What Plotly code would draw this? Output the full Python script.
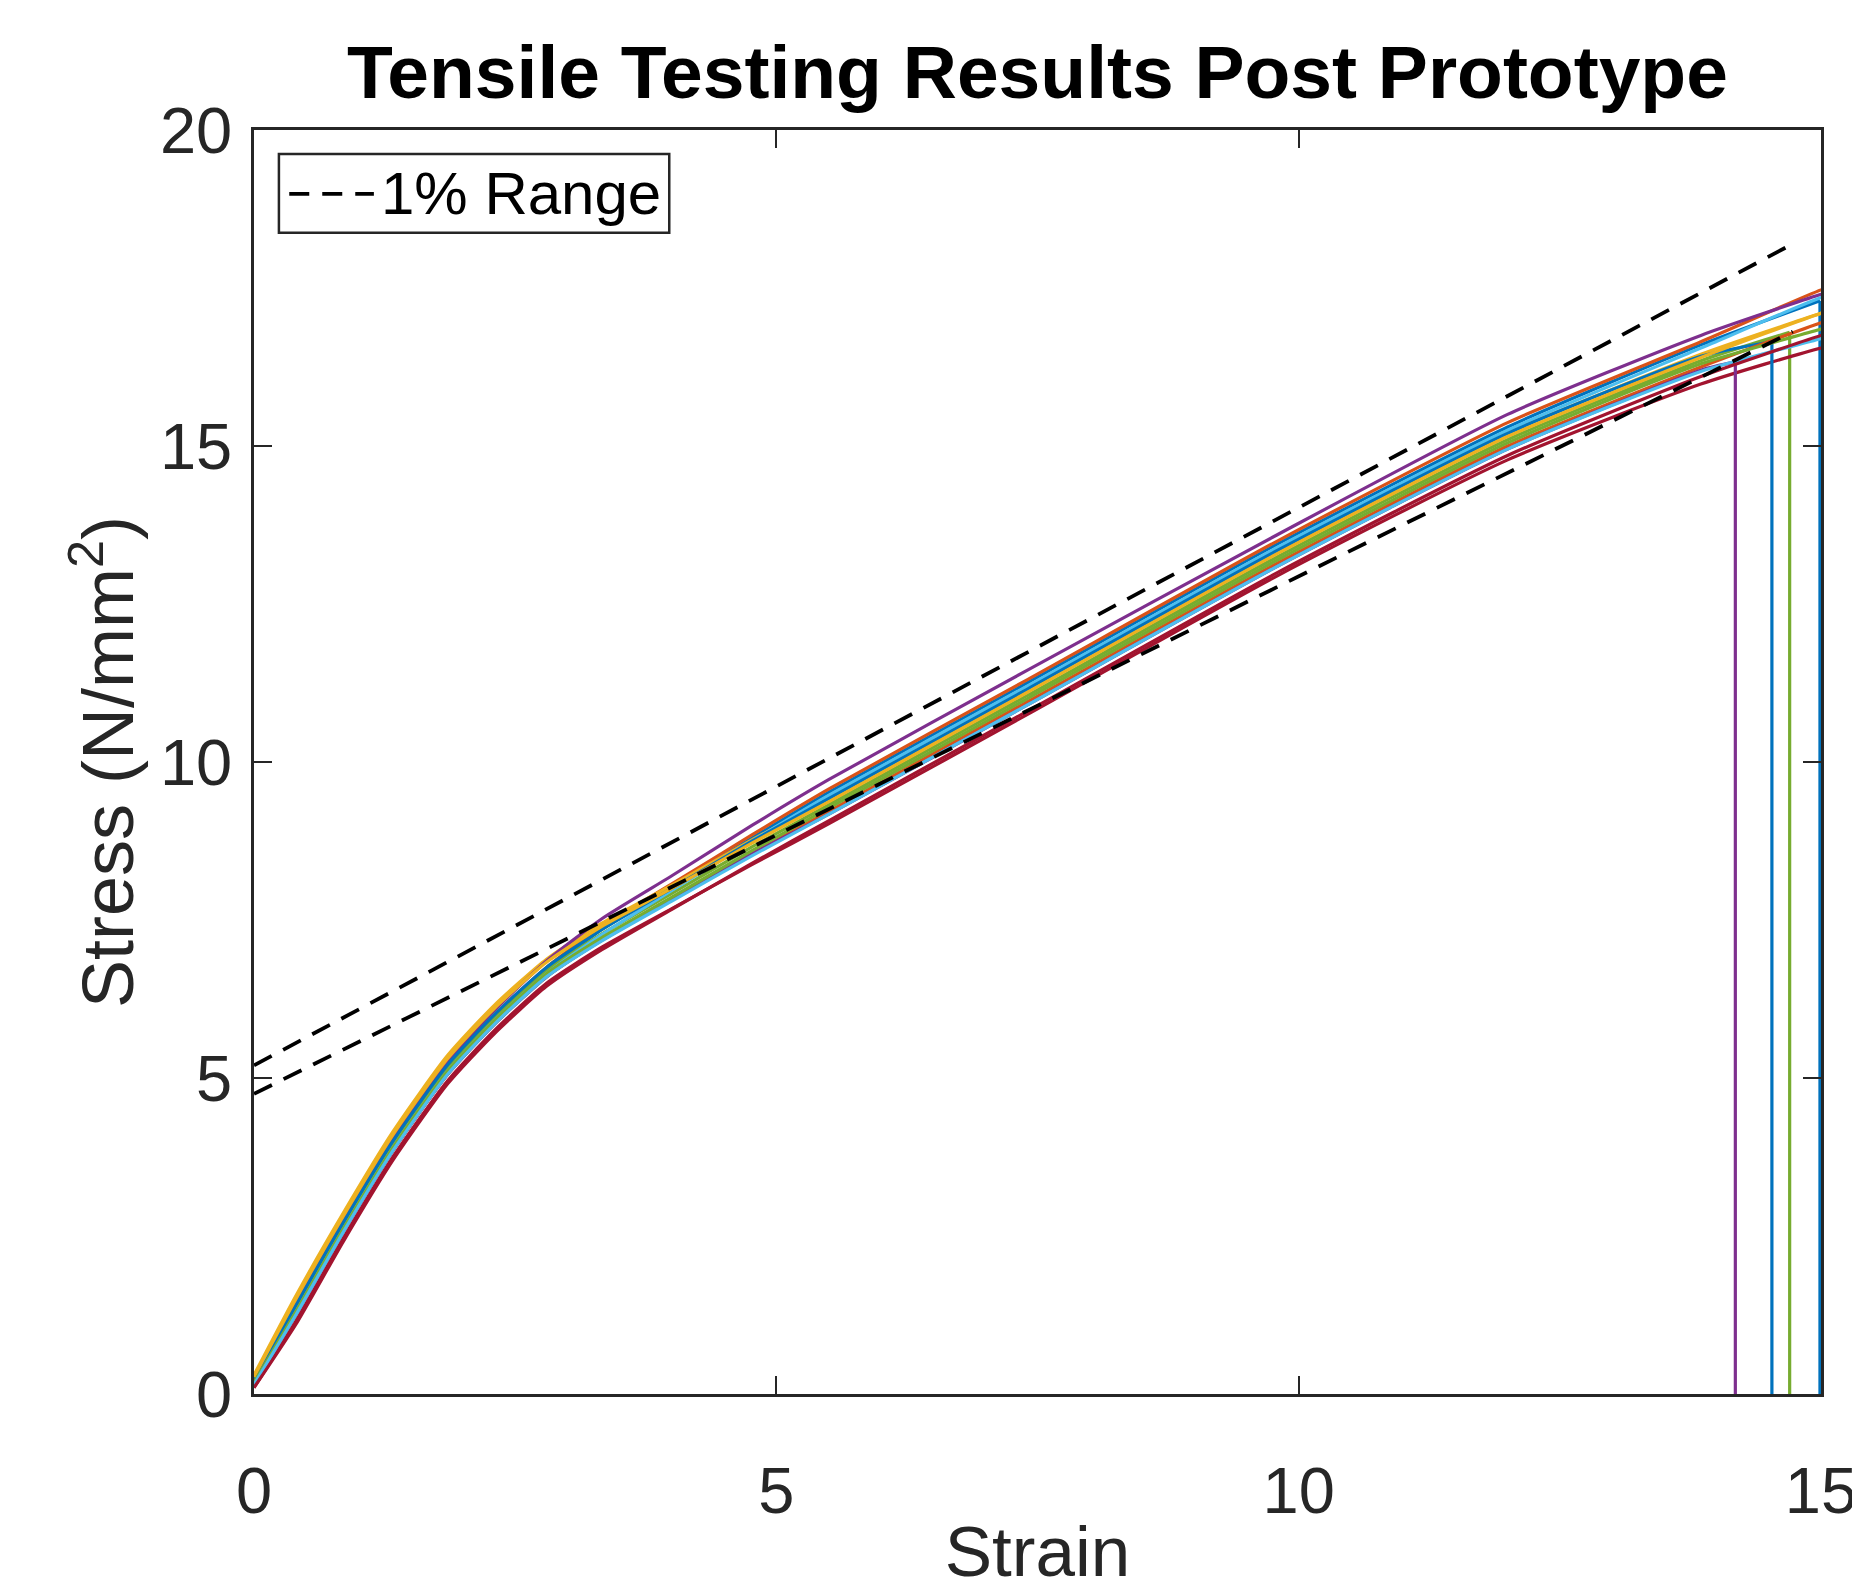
import plotly.graph_objects as go

# ---- data ----
STRAIN = [0, 0.4, 0.85, 1.33, 1.85, 2.3, 2.8, 3.33, 4.0, 4.77, 5.5, 7.4, 9.8, 12.0, 13.85, 15.0, 15.3]
STRAIN_EARLY = STRAIN[:15]  # up to 13.85, for specimens that fail before 15

blue_a_stress = [0.2, 1.35, 2.65, 3.95, 5.15, 5.95, 6.7, 7.35, 8.03, 8.8, 9.52, 11.25, 13.45, 15.3, 16.6]
blue_a_fail = (14.99, 17.3)
orange_a_stress = [0.22, 1.4, 2.7, 4.0, 5.2, 6.0, 6.75, 7.4, 8.07, 8.85, 9.57, 11.3, 13.5, 15.37, 16.65, 17.47, 17.62]
yellow_a_stress = [0.3, 1.55, 2.85, 4.15, 5.35, 6.15, 6.88, 7.45, 8.05, 8.77, 9.42, 11.15, 13.35, 15.2, 16.45, 17.1, 17.25]
purple_a_stress = [0.25, 1.45, 2.75, 4.05, 5.25, 6.07, 6.85, 7.52, 8.2, 9.0, 9.72, 11.45, 13.6, 15.5, 16.75, 17.4, 17.55]
green_a_stress = [0.2, 1.35, 2.65, 3.95, 5.15, 5.95, 6.7, 7.28, 7.92, 8.66, 9.32, 11.05, 13.25, 15.1, 16.35]
green_a_fail = (14.70, 16.8)
lblue_a_stress = [0.18, 1.3, 2.6, 3.9, 5.1, 5.9, 6.65, 7.27, 7.97, 8.75, 9.47, 11.2, 13.4, 15.25, 16.55, 17.35, 17.5]
red_a_stress = [0.1, 1.15, 2.45, 3.75, 4.95, 5.75, 6.5, 7.07, 7.68, 8.38, 9.02, 10.75, 12.95, 14.78, 15.98, 16.55, 16.65]
blue_b_stress = [0.22, 1.4, 2.7, 4.0, 5.2, 6.0, 6.75, 7.35, 8.0, 8.75, 9.42, 11.15, 13.35, 15.2, 16.42]
blue_b_fail = (14.53, 16.65)
orange_b_stress = [0.15, 1.25, 2.55, 3.85, 5.05, 5.85, 6.6, 7.18, 7.82, 8.55, 9.22, 10.95, 13.15, 15.0, 16.25, 16.95, 17.1]
yellow_b_stress = [0.27, 1.5, 2.8, 4.1, 5.3, 6.1, 6.83, 7.4, 8.0, 8.72, 9.37, 11.1, 13.3, 15.15, 16.4, 17.1, 17.25]
purple_b_stress = [0.15, 1.25, 2.55, 3.85, 5.05, 5.85, 6.6, 7.18, 7.82, 8.55, 9.17, 10.9, 13.1, 14.95, 16.2]
purple_b_fail = (14.18, 16.33)
green_b_stress = [0.18, 1.3, 2.6, 3.9, 5.1, 5.9, 6.65, 7.22, 7.86, 8.6, 9.27, 11.0, 13.2, 15.05, 16.3, 16.85, 17.0]
lblue_b_stress = [0.15, 1.25, 2.55, 3.85, 5.05, 5.85, 6.6, 7.17, 7.8, 8.52, 9.17, 10.9, 13.1, 14.95, 16.18, 16.7, 16.85]
red_b_stress = [0.1, 1.1, 2.4, 3.7, 4.9, 5.7, 6.45, 7.03, 7.67, 8.4, 9.07, 10.8, 13.0, 14.85, 16.1, 16.75, 16.9]

# 1% range lines (start / end points)
range_upper_x = [0, 14.73]
range_upper_y = [5.2, 18.2]
range_lower_x = [0, 14.73]
range_lower_y = [4.75, 16.81]

X_TICKS = [0, 5, 10, 15]
Y_TICKS = [0, 5, 10, 15, 20]
LEGEND_LABEL = "1% Range"

# MATLAB default colour order
C_BLUE = "#0072BD"
C_ORANGE = "#D95319"
C_YELLOW = "#EDB120"
C_PURPLE = "#7E2F8E"
C_GREEN = "#77AC30"
C_LBLUE = "#4DBEEE"
C_RED = "#A2142F"

specimens = [
    (C_BLUE, blue_a_stress, blue_a_fail),
    (C_ORANGE, orange_a_stress, None),
    (C_YELLOW, yellow_a_stress, None),
    (C_PURPLE, purple_a_stress, None),
    (C_GREEN, green_a_stress, green_a_fail),
    (C_LBLUE, lblue_a_stress, None),
    (C_RED, red_a_stress, None),
    (C_BLUE, blue_b_stress, blue_b_fail),
    (C_ORANGE, orange_b_stress, None),
    (C_YELLOW, yellow_b_stress, None),
    (C_PURPLE, purple_b_stress, purple_b_fail),
    (C_GREEN, green_b_stress, None),
    (C_LBLUE, lblue_b_stress, None),
    (C_RED, red_b_stress, None),
]

LW = 3.2
fig = go.Figure()
for color, stress, fail in specimens:
    if fail is None:
        xs = list(STRAIN)
        ys = list(stress)
    else:
        xs = list(STRAIN_EARLY) + [fail[0]]
        ys = list(stress) + [fail[1]]
    fig.add_trace(go.Scatter(x=xs, y=ys, mode="lines",
                             line=dict(color=color, width=LW, shape="spline", smoothing=0.6),
                             showlegend=False, hoverinfo="skip"))
    if fail is not None:
        # sudden drop at failure
        fig.add_trace(go.Scatter(x=[fail[0], fail[0]], y=[fail[1], 0], mode="lines",
                                 line=dict(color=color, width=LW),
                                 showlegend=False, hoverinfo="skip"))

DASH = "20px,13px"
fig.add_trace(go.Scatter(x=range_upper_x, y=range_upper_y, mode="lines",
                         line=dict(color="black", width=3.8, dash=DASH),
                         name=LEGEND_LABEL, showlegend=False))
fig.add_trace(go.Scatter(x=range_lower_x, y=range_lower_y, mode="lines",
                         line=dict(color="black", width=3.8, dash=DASH),
                         name=LEGEND_LABEL, showlegend=False))

FONT = "Liberation Sans, Arial, Helvetica, sans-serif"
AX = "#262626"

axis_common = dict(
    showline=True, linewidth=2.5, linecolor=AX, mirror="ticks",
    ticks="inside", ticklen=18, tickwidth=2, tickcolor=AX,
    showgrid=False, zeroline=False, automargin=False,
    tickfont=dict(family=FONT, size=65, color=AX),
)

# legend drawn as a boxed key in the top-left corner of the axes
fig.add_shape(type="rect", xref="paper", yref="paper",
              x0=0.0159, x1=0.265, y0=0.9187, y1=0.981,
              line=dict(color=AX, width=2.5), fillcolor="white", layer="above")
fig.add_shape(type="line", xref="paper", yref="paper",
              x0=0.0225, x1=0.0765, y0=0.9494, y1=0.9494,
              line=dict(color="black", width=3.8, dash=DASH), layer="above")
fig.add_annotation(xref="paper", yref="paper", x=0.0795, y=0.9494,
                   xanchor="left", yanchor="middle", showarrow=False,
                   text=LEGEND_LABEL, font=dict(family=FONT, size=60, color="black"))

# the page body adds an 8px offset, so the figure is sized 8px smaller
W, H = 1852, 1583
fig.update_layout(
    width=W, height=H,
    paper_bgcolor="white", plot_bgcolor="white",
    margin=dict(l=246, r=39, t=122, b=197, autoexpand=False),
    font=dict(family=FONT, color=AX),
    title=dict(text="<b>Tensile Testing Results Post Prototype</b>",
               font=dict(family=FONT, size=75, color="black"),
               x=0.5, xref="paper", xanchor="center",
               y=1 - 64 / H, yref="container", yanchor="middle"),
    xaxis=dict(range=[0, 15], tickvals=X_TICKS, ticklabelstandoff=38,
               title=dict(text="Strain", font=dict(family=FONT, size=71, color=AX), standoff=28),
               **axis_common),
    yaxis=dict(range=[0, 20], tickvals=Y_TICKS, ticklabelstandoff=6,
               title=dict(text="Stress (N/mm<sup>2</sup>)", font=dict(family=FONT, size=72, color=AX), standoff=3),
               **axis_common),
    showlegend=False,
)

fig.write_html("out.html")
